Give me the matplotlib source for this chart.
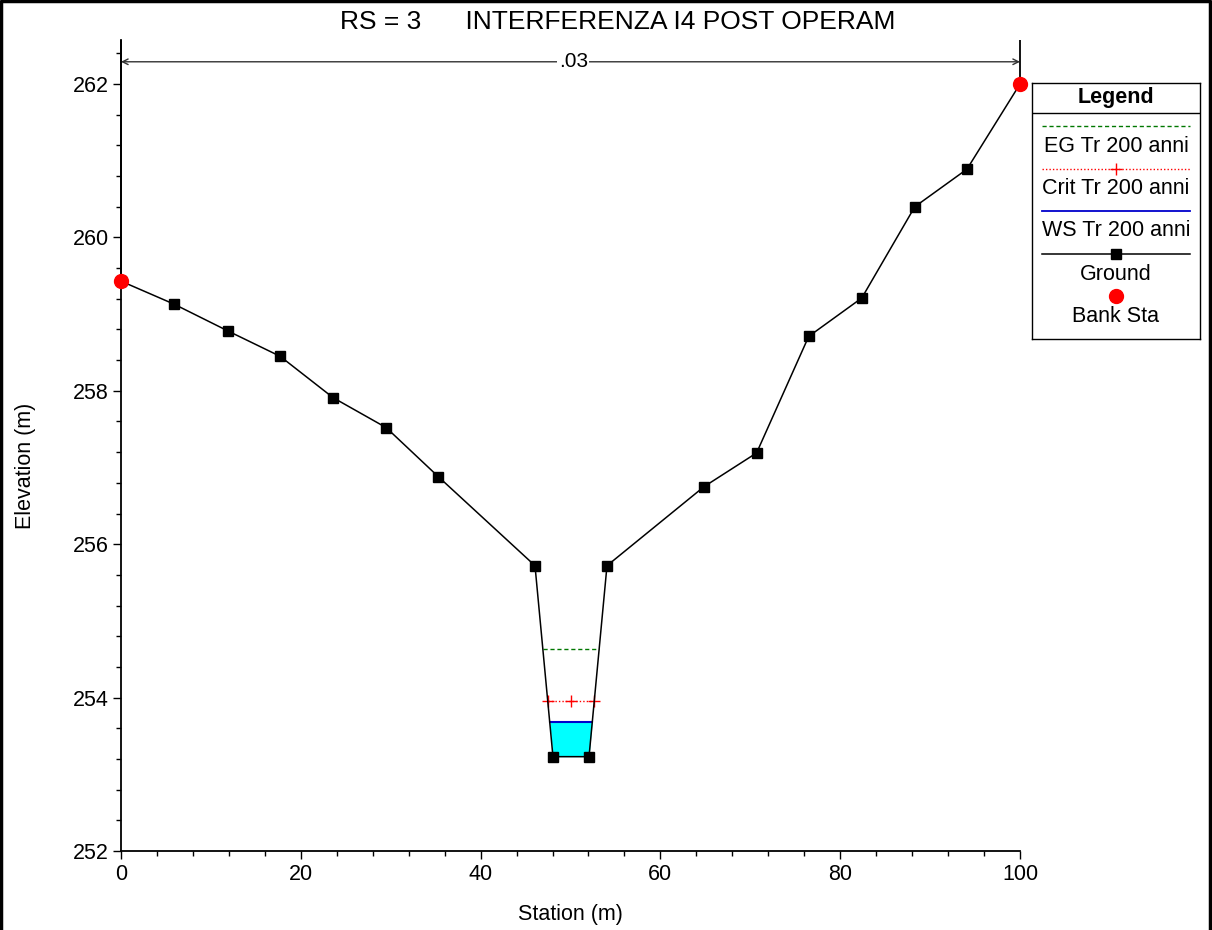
import numpy as np
from matplotlib import pyplot as plt
from matplotlib.lines import Line2D

# Dati sezione RS = 3
station = np.array([0.0, 5.9, 11.9, 17.7, 23.6, 29.5, 35.3, 46.05, 48.05,
                    52.06, 54.06, 64.85, 70.7, 76.5, 82.4, 88.3, 94.1, 100.0])
elev = np.array([259.43, 259.13, 258.78, 258.45, 257.91, 257.52, 256.88, 255.72, 253.23,
                 253.23, 255.72, 256.75, 257.19, 258.71, 259.21, 260.40, 260.89, 262.0])
bank_sta = np.array([0.0, 100.0])
ws = 253.68
crit = 253.96
eg = 254.63
n_val = '.03'

plt.rc('font', family=['Liberation Sans', 'DejaVu Sans'])

def edges(level):
    # intersezioni del livello con le sponde del canale
    xl = np.interp(level, elev[:9][::-1], station[:9][::-1])
    xr = np.interp(level, elev[9:], station[9:])
    return xl, xr

fig = plt.figure(figsize=(12.12, 9.30), dpi=100)
ax = fig.add_axes([121/1212, 1-851/930, (1020-121)/1212, (851-40)/930])

# acqua
ax.fill_between(station, elev, ws, where=elev < ws, interpolate=True, color='cyan', zorder=1, lw=0)
xl, xr = edges(ws)
ax.plot([xl, xr], [ws, ws], color='#0000cc', lw=1.5, zorder=3)
xl, xr = edges(crit)
ax.plot([xl, xr], [crit, crit], color='red', ls=(0, (1, 1.5)), lw=1, zorder=3)
ax.plot([xl, (xl+xr)/2, xr], [crit]*3, 'r+', ms=8, mew=1, zorder=3)
xl, xr = edges(eg)
ax.plot([xl, xr], [eg, eg], color='#007700', ls=(0, (3, 2)), lw=1, zorder=3)

ax.plot(station, elev, 'k-', marker='s', ms=6.5, lw=1.1, zorder=4)
be = np.interp(bank_sta, station, elev)
ax.plot(bank_sta, be, 'o', color='red', ms=10, zorder=5, clip_on=False)

ax.set_xlim(0, 100)
ax.set_ylim(252, 262.574)
ax.vlines(bank_sta, be, 262.574, color='k', lw=1.3, zorder=2, clip_on=False)
ax.annotate('', xy=(0, 262.29), xytext=(100, 262.29),
            arrowprops=dict(arrowstyle='<->', color='#333333', lw=1, shrinkA=0, shrinkB=0))
ax.text(50.3, 262.29, n_val, ha='center', va='center', fontsize=15,
        bbox=dict(fc='white', ec='none', pad=1))

for s in ['top', 'right']:
    ax.spines[s].set_visible(False)
for s in ['left', 'bottom']:
    ax.spines[s].set_linewidth(1.3)
ax.set_xticks(np.arange(0, 101, 20))
ax.set_xticks(np.arange(0, 101, 4), minor=True)
ax.set_yticks(np.arange(252, 262.1, 2))
ax.set_yticks(np.arange(252, 262.5, 0.4), minor=True)
ax.tick_params(direction='out', length=6, width=1, labelsize=15.5, pad=3)
ax.tick_params(which='minor', direction='out', length=3.6, width=1)

fig.text(618/1212, 1-22/930, 'RS = 3      INTERFERENZA I4 POST OPERAM', fontsize=19,
         ha='center', va='center')
fig.text(570/1212, 1-914/930, 'Station (m)', fontsize=15.5, ha='center', va='center')
fig.text(25/1212, 1-466/930, 'Elevation (m)', fontsize=15.5, ha='center', va='center',
         rotation=90)

# bordo figura (sinistra, sopra, destra)
fig.add_artist(Line2D([0.001, 0.001, 0.998, 0.998], [0, 0.999, 0.999, 0],
                      transform=fig.transFigure, color='black', lw=2.5))

# legenda
lg = fig.add_axes([1032/1212, 1-339/930, 168/1212, 256/930])
lg.set_xlim(0, 168)
lg.set_ylim(256, 0)
lg.set_xticks([])
lg.set_yticks([])
for s in lg.spines.values():
    s.set_linewidth(1)
lg.text(84, 14, 'Legend', fontsize=15.5, fontweight='bold', ha='center', va='center')
lg.axhline(30, color='k', lw=1)
lg.plot([10, 158], [43, 43], color='#007700', ls=(0, (3, 2)), lw=1)
lg.text(84, 64, 'EG Tr 200 anni', fontsize=15.5, ha='center', va='center')
lg.plot([10, 158], [86, 86], color='red', ls=(0, (1, 1.5)), lw=1)
lg.plot([84], [86], 'r+', ms=8, mew=1)
lg.text(84, 106, 'Crit Tr 200 anni', fontsize=15.5, ha='center', va='center')
lg.plot([10, 158], [128, 128], color='#0000cc', lw=1.3)
lg.text(84, 148, 'WS Tr 200 anni', fontsize=15.5, ha='center', va='center')
lg.plot([10, 158], [171, 171], 'k-', lw=1.1)
lg.plot([84], [171], 'ks', ms=6.5)
lg.text(84, 191, 'Ground', fontsize=15.5, ha='center', va='center')
lg.plot([84], [213], 'o', color='red', ms=10)
lg.text(84, 233, 'Bank Sta', fontsize=15.5, ha='center', va='center')

fig.savefig('out.png', dpi=100)
